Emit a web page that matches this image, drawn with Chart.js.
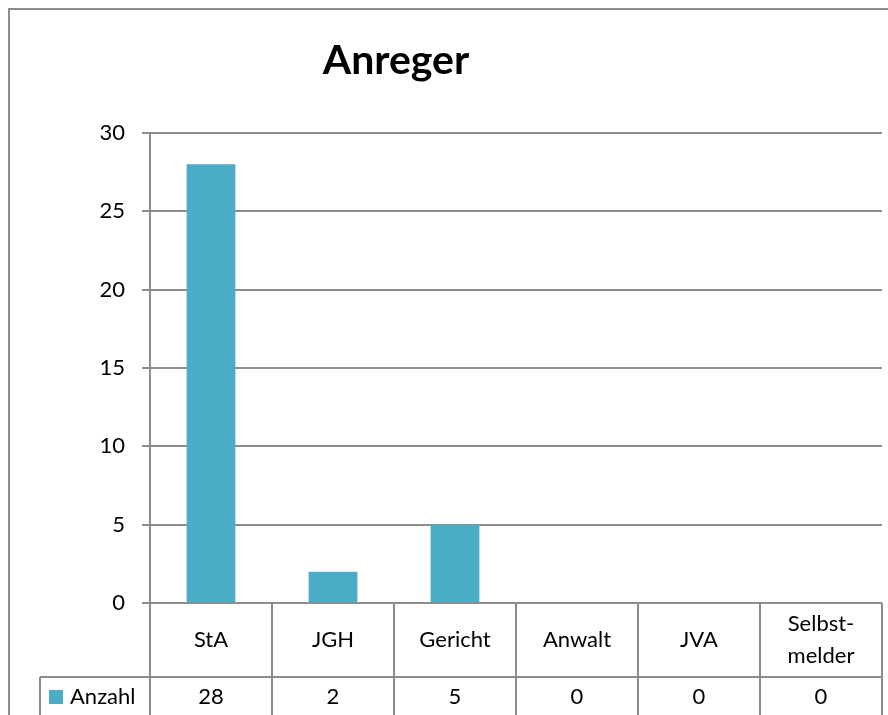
<!DOCTYPE html>
<html>
<head>
<meta charset="utf-8">
<script src="https://cdn.jsdelivr.net/npm/chart.js@4/dist/chart.umd.min.js"></script>
<style>
    html, body { margin: 0; padding: 0; background: #fff; }
    #wrap { width: 888px; height: 715px; }
</style>
</head>
<body>
<div id="wrap"><canvas id="chart"></canvas></div>
<script>
const chartTitle = 'Anreger';
const seriesName = 'Anzahl';
const categories = ['StA', 'JGH', 'Gericht', 'Anwalt', 'JVA', ['Selbst-', 'melder']];
const counts = [28, 2, 5, 0, 0, 0];
const yTicks = [0, 5, 10, 15, 20, 25, 30];

const barColor = '#4BACC6';
const lineColor = '#8c8c8c';
const fontFamily = 'Lato, "Open Sans", sans-serif';

// frame, title and the data table under the plot (Excel style)
const excelDecor = {
    id: 'excelDecor',
    beforeDraw(chart) {
        const ctx = chart.ctx;
        ctx.save();
        ctx.strokeStyle = '#8c8c8c';
        ctx.lineWidth = 2;
        ctx.beginPath();
        ctx.moveTo(9, chart.height);
        ctx.lineTo(9, 9);
        ctx.lineTo(chart.width, 9);
        ctx.stroke();
        ctx.restore();
    },
    afterDraw(chart) {
        const ctx = chart.ctx;
        const area = chart.chartArea;
        const x = chart.scales.x;
        const n = categories.length;
        const cellW = (area.right - area.left) / n;
        const rowSplit = area.bottom + 74;
        const bottom = chart.height;

        ctx.save();
        // title
        ctx.fillStyle = '#000';
        ctx.font = 'bold 41px ' + fontFamily;
        ctx.textAlign = 'center';
        ctx.textBaseline = 'middle';
        ctx.fillText(chartTitle, 396, 61);

        // table lines
        ctx.strokeStyle = lineColor;
        ctx.lineWidth = 2;
        ctx.beginPath();
        for (let i = 0; i <= n; i++) {
            const lx = Math.round(area.left + i * cellW);
            ctx.moveTo(lx, area.bottom);
            ctx.lineTo(lx, bottom);
        }
        ctx.moveTo(40, rowSplit);
        ctx.lineTo(area.right, rowSplit);
        ctx.moveTo(40, rowSplit);
        ctx.lineTo(40, bottom);
        ctx.stroke();

        // category labels and values
        ctx.font = '22px ' + fontFamily;
        ctx.fillStyle = '#000';
        categories.forEach((cat, i) => {
            const cx = x.getPixelForValue(i);
            const lines = Array.isArray(cat) ? cat : [cat];
            const mid = area.bottom + 37;
            lines.forEach((ln, j) => {
                ctx.fillText(ln, cx, mid + (j - (lines.length - 1) / 2) * 32);
            });
            ctx.fillText(String(counts[i]), cx, rowSplit + 20);
        });

        // legend key
        ctx.fillStyle = barColor;
        ctx.fillRect(49, rowSplit + 13, 14, 14);
        ctx.fillStyle = '#000';
        ctx.textAlign = 'left';
        ctx.fillText(seriesName, 70, rowSplit + 20);
        ctx.restore();
    }
};

new Chart(document.getElementById('chart'), {
    type: 'bar',
    data: {
        labels: categories,
        datasets: [{
            label: seriesName,
            data: counts,
            backgroundColor: barColor,
            barPercentage: 0.4,
            categoryPercentage: 1
        }]
    },
    options: {
        responsive: true,
        maintainAspectRatio: false,
        animation: false,
        layout: {
            padding: { top: 133, bottom: 112, left: 0, right: 6 }
        },
        plugins: {
            legend: { display: false },
            title: { display: false },
            tooltip: { enabled: false }
        },
        scales: {
            x: {
                display: false
            },
            y: {
                min: 0,
                max: 30,
                afterFit(scale) { scale.width = 150; },
                afterBuildTicks(scale) { scale.ticks = yTicks.map(v => ({ value: v })); },
                ticks: {
                    padding: 17,
                    color: '#000',
                    font: { family: fontFamily, size: 22 }
                },
                grid: {
                    color: lineColor,
                    lineWidth: 2,
                    tickLength: 8
                },
                border: {
                    color: lineColor,
                    width: 2
                }
            }
        }
    },
    plugins: [excelDecor]
});
</script>
</body>
</html>
